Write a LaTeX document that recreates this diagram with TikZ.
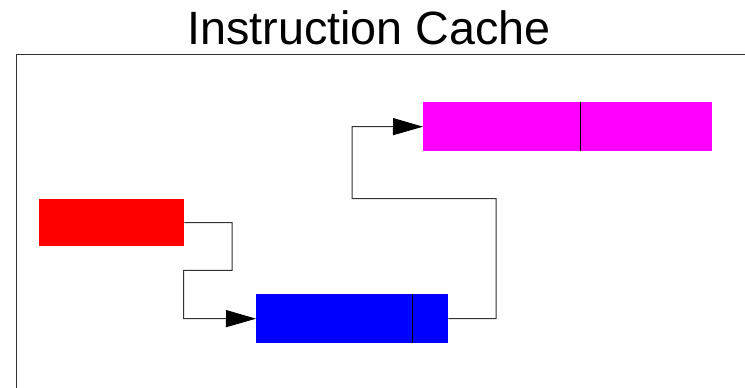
\documentclass[tikz,border=0pt]{standalone}
\usepackage{fontspec}
\setmainfont{Liberation Sans}
\usetikzlibrary{arrows.meta}
\definecolor{pmag}{RGB}{255,0,255}
\definecolor{pred}{RGB}{255,0,0}
\definecolor{pblue}{RGB}{0,0,255}
\begin{document}
\begin{tikzpicture}[x=1pt,y=-1pt,
  blk/.style={draw=none,inner sep=0pt,anchor=north west},
  conn/.style={line width=1pt,draw=black!80},
  arr/.style={conn,-{Triangle[length=30pt,width=17pt,color=black]}}]
\useasboundingbox (0,0) rectangle (745,388);
\node[font=\fontsize{46.7}{50}\selectfont,anchor=base] (title) at (369,44.5) {Instruction Cache};
\coordinate (fbl) at (16,388);
\coordinate (ftl) at (16,54.5);
\coordinate (ftr) at (745,54.5);
\draw[conn] (fbl) -- (ftl) -- (ftr);
\node[blk,fill=pred,minimum width=145pt,minimum height=47pt] (red) at (39,199) {};
\node[blk,fill=pblue,minimum width=192pt,minimum height=49pt] (blue) at (256,294) {};
\node[blk,fill=pmag,minimum width=289pt,minimum height=49pt] (mag) at (423,102) {};
\draw[line width=1pt] ([xshift=156pt]blue.north west) -- ([xshift=156pt]blue.south west);
\draw[line width=1pt] ([xshift=157pt]mag.north west) -- ([xshift=157pt]mag.south west);
\draw[arr] (red.east) -- (232,222.5) -- (232,270.3) -- (183.5,270.3) -- (183.5,318.5) -- (blue.west);
\draw[arr] (blue.east) -- (496,318.5) -- (496,198.7) -- (352,198.7) -- (352,126.5) -- (mag.west);
\end{tikzpicture}
\end{document}
